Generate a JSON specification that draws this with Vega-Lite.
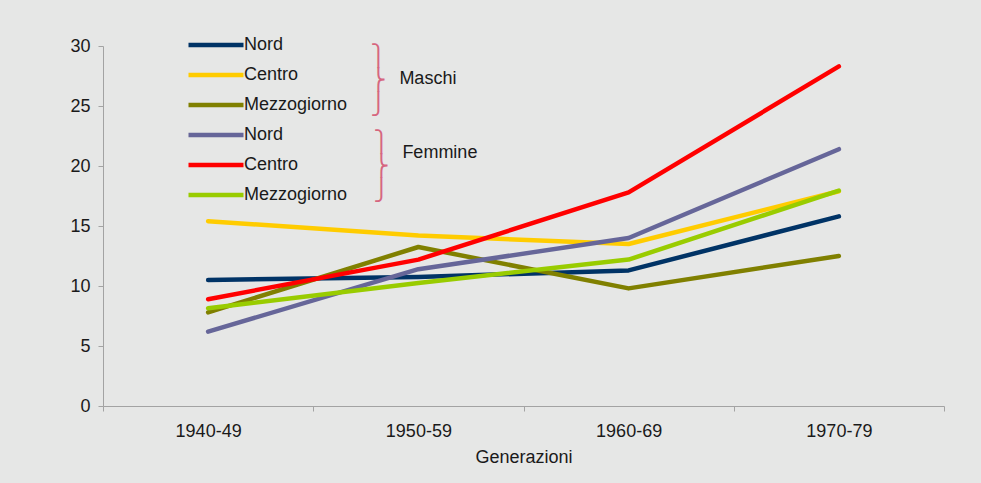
{
  "$schema": "https://vega.github.io/schema/vega-lite/v6.json",
  "width": 841,
  "height": 360,
  "autosize": {"type": "none"},
  "padding": {"left": 103, "top": 46, "right": 37, "bottom": 77},
  "background": "#e6e7e6",
  "config": {"view": {"stroke": null}, "font": "Liberation Sans"},
  "layer": [
    {
      "data": {
        "values": [
          {"serie": "Maschi Nord", "generazione": "1940-49", "valore": 10.5},
          {"serie": "Maschi Nord", "generazione": "1950-59", "valore": 10.75},
          {"serie": "Maschi Nord", "generazione": "1960-69", "valore": 11.3},
          {"serie": "Maschi Nord", "generazione": "1970-79", "valore": 15.8},
          {"serie": "Maschi Centro", "generazione": "1940-49", "valore": 15.4},
          {"serie": "Maschi Centro", "generazione": "1950-59", "valore": 14.2},
          {"serie": "Maschi Centro", "generazione": "1960-69", "valore": 13.5},
          {"serie": "Maschi Centro", "generazione": "1970-79", "valore": 17.9},
          {"serie": "Maschi Mezzogiorno", "generazione": "1940-49", "valore": 7.8},
          {"serie": "Maschi Mezzogiorno", "generazione": "1950-59", "valore": 13.25},
          {"serie": "Maschi Mezzogiorno", "generazione": "1960-69", "valore": 9.8},
          {"serie": "Maschi Mezzogiorno", "generazione": "1970-79", "valore": 12.5},
          {"serie": "Femmine Nord", "generazione": "1940-49", "valore": 6.2},
          {"serie": "Femmine Nord", "generazione": "1950-59", "valore": 11.4},
          {"serie": "Femmine Nord", "generazione": "1960-69", "valore": 14.0},
          {"serie": "Femmine Nord", "generazione": "1970-79", "valore": 21.4},
          {"serie": "Femmine Centro", "generazione": "1940-49", "valore": 8.9},
          {"serie": "Femmine Centro", "generazione": "1950-59", "valore": 12.2},
          {"serie": "Femmine Centro", "generazione": "1960-69", "valore": 17.8},
          {"serie": "Femmine Centro", "generazione": "1970-79", "valore": 28.3},
          {"serie": "Femmine Mezzogiorno", "generazione": "1940-49", "valore": 8.15},
          {"serie": "Femmine Mezzogiorno", "generazione": "1950-59", "valore": 10.25},
          {"serie": "Femmine Mezzogiorno", "generazione": "1960-69", "valore": 12.2},
          {"serie": "Femmine Mezzogiorno", "generazione": "1970-79", "valore": 17.95}
        ]
      },
      "mark": {"type": "line", "strokeWidth": 4.5, "strokeCap": "round", "strokeJoin": "round"},
      "encoding": {
        "x": {
          "field": "generazione",
          "type": "ordinal",
          "bandPosition": 0.5,
          "scale": {"type": "band", "paddingInner": 0, "paddingOuter": 0},
          "axis": {
            "title": "Generazioni",
            "tickBand": "extent",
            "labelAngle": 0,
            "domainColor": "#a3a3a3",
            "tickColor": "#a3a3a3",
            "tickSize": 5,
            "labelFontSize": 18,
            "labelColor": "#1a1a1a",
            "labelPadding": 11,
            "titleFontSize": 18,
            "titleFontWeight": "normal",
            "titleColor": "#1a1a1a",
            "titlePadding": 8
          }
        },
        "y": {
          "field": "valore",
          "type": "quantitative",
          "scale": {"domain": [0, 30]},
          "axis": {
            "title": null,
            "values": [0, 5, 10, 15, 20, 25, 30],
            "grid": false,
            "domainColor": "#a3a3a3",
            "tickColor": "#a3a3a3",
            "tickSize": 5,
            "labelFontSize": 18,
            "labelColor": "#1a1a1a",
            "labelPadding": 8
          }
        },
        "color": {
          "field": "serie",
          "type": "nominal",
          "scale": {
            "domain": ["Maschi Nord", "Maschi Centro", "Maschi Mezzogiorno", "Femmine Nord", "Femmine Centro", "Femmine Mezzogiorno"],
            "range": ["#003366", "#ffcc00", "#808000", "#666699", "#ff0000", "#99cc00"]
          },
          "legend": {
            "orient": "none",
            "legendX": 104,
            "legendY": -10,
            "title": null,
            "padding": 0,
            "symbolType": "M-5.5,0H5.5",
            "symbolSize": 100,
            "symbolStrokeWidth": 4.5,
            "labelFontSize": 18,
            "labelColor": "#1a1a1a",
            "labelOffset": 19,
            "rowPadding": 12,
            "labelExpr": "split(datum.label, ' ')[1]"
          }
        }
      }
    },
    {
      "data": {"values": [{"gruppo": "Maschi"}]},
      "mark": {"type": "text", "text": ["⎫", "⎬", "⎭"], "font": "DejaVu Sans", "fontSize": 21, "lineHeight": 24.3, "color": "#d6667f", "dx": -40, "baseline": "middle", "align": "center"},
      "encoding": {"x": {"datum": "1950-59"}, "y": {"datum": 29.1}}
    },
    {
      "data": {"values": [{"gruppo": "Femmine"}]},
      "mark": {"type": "text", "text": ["⎫", "⎬", "⎭"], "font": "DejaVu Sans", "fontSize": 21, "lineHeight": 24.3, "color": "#d6667f", "dx": -37, "baseline": "middle", "align": "center"},
      "encoding": {"x": {"datum": "1950-59"}, "y": {"datum": 21.95}}
    },
    {
      "data": {"values": [{"gruppo": "Maschi"}]},
      "mark": {"type": "text", "fontSize": 18, "color": "#1a1a1a", "dx": -19, "baseline": "alphabetic", "align": "left"},
      "encoding": {"x": {"datum": "1950-59"}, "y": {"datum": 26.83}, "text": {"field": "gruppo"}}
    },
    {
      "data": {"values": [{"gruppo": "Femmine"}]},
      "mark": {"type": "text", "fontSize": 18, "color": "#1a1a1a", "dx": -16, "baseline": "alphabetic", "align": "left"},
      "encoding": {"x": {"datum": "1950-59"}, "y": {"datum": 20.67}, "text": {"field": "gruppo"}}
    }
  ]
}
